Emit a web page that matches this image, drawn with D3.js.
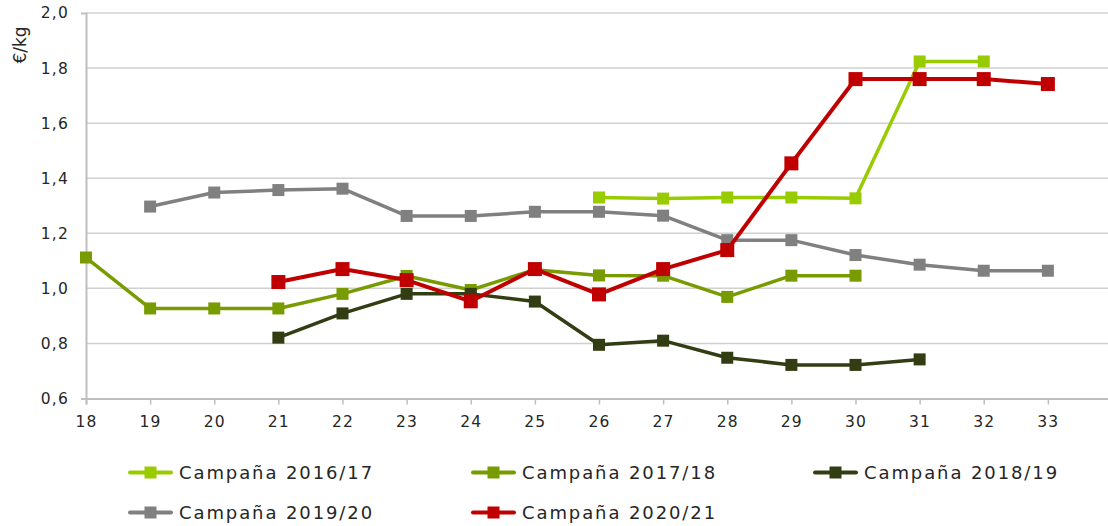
<!DOCTYPE html>
<html>
<head>
<meta charset="utf-8">
<script src="https://cdn.jsdelivr.net/npm/d3@7"></script>
<style>
  body { margin: 0; background: #fff; }
  svg { display: block; font-family: "DejaVu Sans", sans-serif; }
</style>
</head>
<body>
<svg id="chart" width="1108" height="526"></svg>
<script>
  // weeks on the x axis
  var weeks = [18,19,20,21,22,23,24,25,26,27,28,29,30,31,32,33];
  var yTicks = [0.6,0.8,1.0,1.2,1.4,1.6,1.8,2.0];

  var camp1617 = [null,null,null,null,null,null,null,null,1.33,1.326,1.33,1.33,1.327,1.824,1.824,null];
  var camp1718 = [1.112,0.927,0.927,0.927,0.98,1.045,0.994,1.068,1.047,1.046,0.969,1.046,1.046,null,null,null];
  var camp1819 = [null,null,null,0.821,0.909,0.98,0.98,0.952,0.795,0.81,0.748,0.722,0.722,0.742,null,null];
  var camp1920 = [null,1.297,1.348,1.357,1.362,1.263,1.263,1.278,1.278,1.264,1.175,1.175,1.121,1.086,1.064,1.064];
  var camp2021 = [null,null,null,1.023,1.07,1.03,0.953,1.07,0.978,1.07,1.139,1.454,1.76,1.76,1.76,1.742];

  var seriesNames = ["Campaña 2016/17","Campaña 2017/18","Campaña 2018/19","Campaña 2019/20","Campaña 2020/21"];
  var seriesValues = [camp1617, camp1718, camp1819, camp1920, camp2021];
  var seriesColors = ["#99cc00","#779b00","#333d14","#808080","#c00000"];

  var svg = d3.select("#chart");
  var x = d3.scaleLinear().domain([18,34]).range([86,1112]);
  var y = d3.scaleLinear().domain([0.6,2.0]).range([398.5,13]);

  // horizontal grid
  svg.append("g").selectAll("line").data(yTicks.slice(1)).enter().append("line")
    .attr("x1",86).attr("x2",1112)
    .attr("y1",function(d){return y(d);}).attr("y2",function(d){return y(d);})
    .attr("stroke","#d0d0d0").attr("stroke-width",1.5);

  // y axis
  var yAxis = svg.append("g").attr("transform","translate(86,0)")
    .call(d3.axisLeft(y).tickValues(yTicks).tickSize(5).tickPadding(12)
      .tickFormat(function(d){return d3.format(".1f")(d).replace(".",",");}));
  // x axis
  var xAxis = svg.append("g").attr("transform","translate(0,398.5)")
    .call(d3.axisBottom(x).tickValues(weeks.concat([34])).tickSize(6).tickPadding(11)
      .tickFormat(function(d){return d<34 ? d : "";}));

  [yAxis,xAxis].forEach(function(a){
    a.attr("font-size",null).attr("font-family",null);
    a.select(".domain").attr("stroke","#bfbfbf").attr("stroke-width",2);
    a.selectAll(".tick line").attr("stroke","#bfbfbf").attr("stroke-width",1.5);
    a.selectAll("text").attr("fill","#262626").style("font-size","15.5px").style("letter-spacing","1.2px");
  });
  yAxis.selectAll(".tick line").attr("stroke","none");

  svg.append("text").attr("transform","translate(26,45) rotate(-90)")
    .attr("text-anchor","middle").attr("fill","#262626").style("font-size","17px").text("€/kg");

  var line = d3.line()
    .defined(function(d){return d != null;})
    .x(function(d,i){return x(weeks[i]);})
    .y(function(d){return y(d);});

  seriesValues.forEach(function(vals,s){
    var red = s === 4;
    var g = svg.append("g");
    g.append("path").datum(vals).attr("d",line)
      .attr("fill","none").attr("stroke",seriesColors[s])
      .attr("stroke-width",red ? 4 : 3.5).attr("stroke-linejoin","round");
    var size = red ? 14 : 12;
    g.selectAll("rect").data(vals.map(function(v,i){return {v:v,w:weeks[i]};})
        .filter(function(d){return d.v != null;}))
      .enter().append("rect")
      .attr("x",function(d){return x(d.w)-size/2;})
      .attr("y",function(d){return y(d.v)-size/2;})
      .attr("width",size).attr("height",size)
      .attr("fill",seriesColors[s]);
  });

  // legend
  var legX = [130,473,815];
  var legY = [472.5,512.5];
  seriesNames.forEach(function(name,s){
    var lx = legX[s%3], ly = legY[Math.floor(s/3)];
    var g = svg.append("g").attr("transform","translate("+lx+","+ly+")");
    g.append("line").attr("x1",0).attr("x2",41).attr("y1",0).attr("y2",0)
      .attr("stroke",seriesColors[s]).attr("stroke-width",4).attr("stroke-linecap","round");
    g.append("rect").attr("x",14.5).attr("y",-6).attr("width",12).attr("height",12)
      .attr("fill",seriesColors[s]);
    g.append("text").attr("x",49).attr("y",6.5).attr("fill","#262626")
      .style("font-size","18px").style("letter-spacing","1.9px").text(name);
  });
</script>
</body>
</html>
